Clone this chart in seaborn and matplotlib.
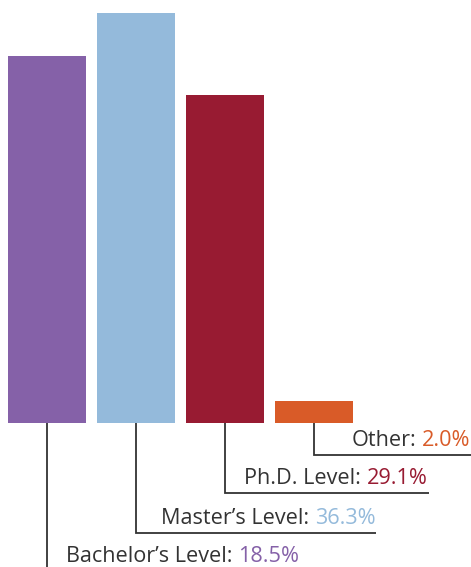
import seaborn as sns
import matplotlib.pyplot as plt
import pandas as pd

# bar data (heights, labels as printed)
categories = ["Bachelor\u2019s Level", "Master\u2019s Level", "Ph.D. Level", "Other"]
bar_heights = [36.7, 41.0, 32.8, 2.2]
shares = ["18.5%", "36.3%", "29.1%", "2.0%"]
colors = ["#8561A8", "#94BADB", "#981B32", "#D95B28"]

df = pd.DataFrame({"level": categories, "height": bar_heights})

sns.set_style("white")
plt.rcParams["font.family"] = ["Open Sans", "DejaVu Sans"]

fig = plt.figure(figsize=(4.71, 5.67), dpi=100)
ax = fig.add_axes([0, 0, 1, 1])
sns.barplot(data=df, x="level", y="height", hue="level", palette=colors,
            legend=False, width=0.876, saturation=1, linewidth=0, ax=ax)
ax.set_xlim(-0.528, 4.764)
ax.set_ylim(-14.4, 42.3)
ax.axis("off")

# leader lines and labels: line level, text bottom, right end
line_y = [-14.4, -11.0, -7.0, -3.2]
text_y = [-14.45, -10.65, -6.65, -2.85]
right_x = [2.84, 3.70, 4.29, 4.764]
line_col = "#333333"

for i, cat in enumerate(categories):
    if i == 0:
        ax.plot([i, i], [0, line_y[i]], color=line_col, lw=1.3, solid_capstyle="butt")
    else:
        ax.plot([i, i, right_x[i]], [0, line_y[i], line_y[i]], color=line_col,
                lw=1.3, solid_joinstyle="miter", solid_capstyle="butt")
    val = ax.text(right_x[i] - 0.012, text_y[i], shares[i], color=colors[i],
                  fontsize=15.6, ha="right", va="bottom")
    ax.annotate(cat + ":", xy=(0, 0), xycoords=val, xytext=(-4, 0),
                textcoords="offset points", color="#333333", fontsize=15.6,
                ha="right", va="bottom")

fig.savefig("out.png", dpi=100)
